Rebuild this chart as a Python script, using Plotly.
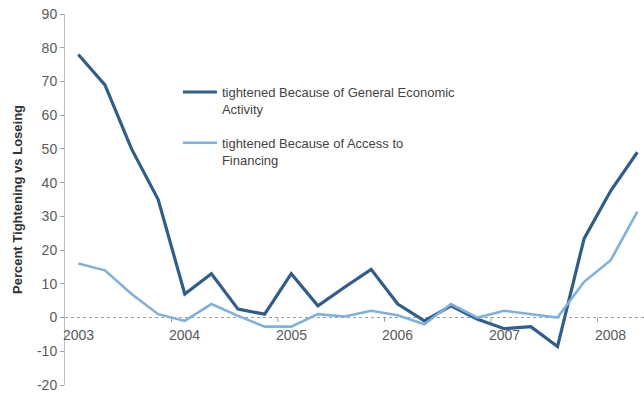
import plotly.graph_objects as go

# Quarterly survey readings, 2003 Q1 through 2008 Q2
quarters = [f"{y}Q{q}" for y in range(2003, 2009) for q in range(1, 5)][:22]

general_activity = [78, 69, 50, 35, 7, 13, 2.5, 1, 13, 3.5, 9, 14.3,
                    4, -1, 3.5, -0.5, -3.3, -2.7, -8.6, 23.4, 37.6, 49]
access_financing = [16, 14, 7, 1, -1, 4, 0.5, -2.7, -2.7, 1, 0.3, 2,
                    0.7, -2, 4, 0, 2, 1, 0, 10.6, 17, 31.4]

year_labels = ["2003", "2004", "2005", "2006", "2007", "2008"]
y_ticks = list(range(-20, 100, 10))

series_names = [
    "tightened Because of General Economic<br>Activity",
    "tightened Because of Access to<br>Financing",
]
dark_blue = "#2f5d8c"
light_blue = "#7fb1de"
font_family = "Liberation Sans, Arial, sans-serif"

fig = go.Figure()
fig.add_trace(go.Scatter(x=quarters, y=general_activity, mode="lines",
                         name=series_names[0], legendgroup="a",
                         line=dict(color=dark_blue, width=3.2)))
fig.add_trace(go.Scatter(x=quarters, y=access_financing, mode="lines",
                         name=series_names[1], legendgroup="b",
                         line=dict(color=light_blue, width=2.6)))

# dotted baseline at zero
fig.add_shape(type="line", xref="paper", yref="y", x0=0, x1=1, y0=0, y1=0,
              line=dict(color="#9a9a9a", width=1, dash="dot"), layer="below")

# year boundary ticks on the baseline and year labels under the first quarter
for label in year_labels:
    q1 = quarters.index(f"{label}Q1")
    fig.add_annotation(x=quarters[q1], y=0, xref="x", yref="y", text=label,
                       showarrow=False, yanchor="top", yshift=-7,
                       font=dict(family=font_family, size=14, color="#5a5a5a"))
    if q1 > 0:
        fig.add_shape(type="line", xref="x", yref="y", x0=q1 - 0.5, x1=q1 - 0.5,
                      y0=0, y1=-1.3, line=dict(color="#9a9a9a", width=1))

fig.update_layout(
    width=644, height=394,
    margin=dict(l=65, r=0, t=14, b=9),
    paper_bgcolor="white", plot_bgcolor="white",
    font=dict(family=font_family, color="#555555"),
    showlegend=True,
    legend=dict(x=0.195, y=0.83, xanchor="left", yanchor="top",
                bgcolor="rgba(0,0,0,0)", valign="top", tracegroupgap=14,
                itemwidth=34,
                font=dict(family=font_family, size=13, color="#444444")),
    xaxis=dict(type="category", range=[-0.5, 21.25], showticklabels=False,
               showgrid=False, zeroline=False, showline=False, ticks=""),
    yaxis=dict(range=[-20, 90], tickmode="array", tickvals=y_ticks,
               ticktext=[str(v) for v in y_ticks],
               showgrid=False, zeroline=False,
               showline=True, linecolor="#c0c0c0", linewidth=1,
               ticks="outside", ticklen=4, tickcolor="#a0a0a0",
               tickfont=dict(family=font_family, size=14, color="#5a5a5a"),
               title=dict(text="<b>Percent Tightening vs Loseing</b>", standoff=11,
                          font=dict(family=font_family, size=13, color="#333333"))),
)

fig.write_html("out.html")
